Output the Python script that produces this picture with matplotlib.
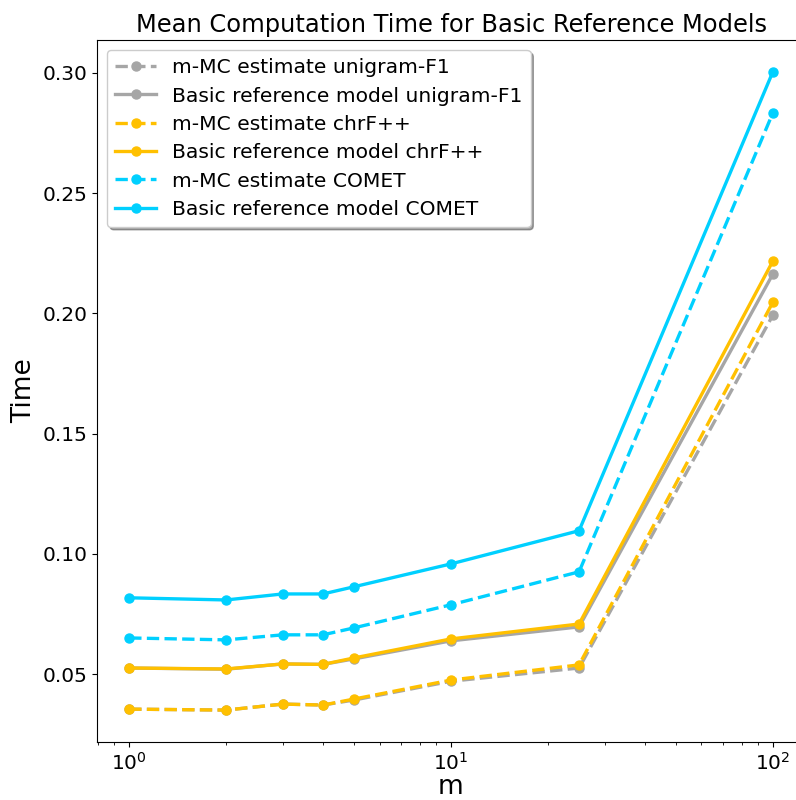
import matplotlib
matplotlib.use('Agg')
from matplotlib import pyplot as plt

m = [1, 2, 3, 4, 5, 10, 25, 100]

mc_unigram = [0.0354, 0.0350, 0.0375, 0.0371, 0.0392, 0.0470, 0.0525, 0.1992]
basic_unigram = [0.0525, 0.0520, 0.0542, 0.0540, 0.0563, 0.0638, 0.0696, 0.2163]
mc_chrf = [0.0354, 0.0350, 0.0375, 0.0371, 0.0396, 0.0475, 0.0538, 0.2046]
basic_chrf = [0.0525, 0.0521, 0.0542, 0.0540, 0.0567, 0.0646, 0.0708, 0.2217]
mc_comet = [0.0650, 0.0642, 0.0663, 0.0663, 0.0692, 0.0788, 0.0925, 0.2833]
basic_comet = [0.0817, 0.0808, 0.0833, 0.0833, 0.0863, 0.0958, 0.1096, 0.3004]

grey = '#a6a6a6'
yellow = '#ffc000'
cyan = '#00d0ff'

fig = plt.figure(figsize=(7.96, 8), dpi=100)
ax = fig.add_axes([97 / 796, 58 / 800, 708 / 796, 702 / 800])

style = dict(lw=2.4, ms=6.5)
ax.plot(m, mc_unigram, 'o--', color=grey, label='m-MC estimate unigram-F1', **style)
ax.plot(m, basic_unigram, 'o-', color=grey, label='Basic reference model unigram-F1', **style)
ax.plot(m, mc_chrf, 'o--', color=yellow, label='m-MC estimate chrF++', **style)
ax.plot(m, basic_chrf, 'o-', color=yellow, label='Basic reference model chrF++', **style)
ax.plot(m, mc_comet, 'o--', color=cyan, label='m-MC estimate COMET', **style)
ax.plot(m, basic_comet, 'o-', color=cyan, label='Basic reference model COMET', **style)

ax.set_xscale('log')
ax.set_title('Mean Computation Time for Basic Reference Models', fontsize=17.4)
ax.set_xlabel('m', fontsize=19, labelpad=0)
ax.set_ylabel('Time', fontsize=19)
ax.tick_params(labelsize=14.5)
ax.legend(fontsize=14.6, shadow=True, loc='upper left', labelspacing=0.46,
          borderaxespad=0.5)

plt.savefig('out.png', dpi=100)
